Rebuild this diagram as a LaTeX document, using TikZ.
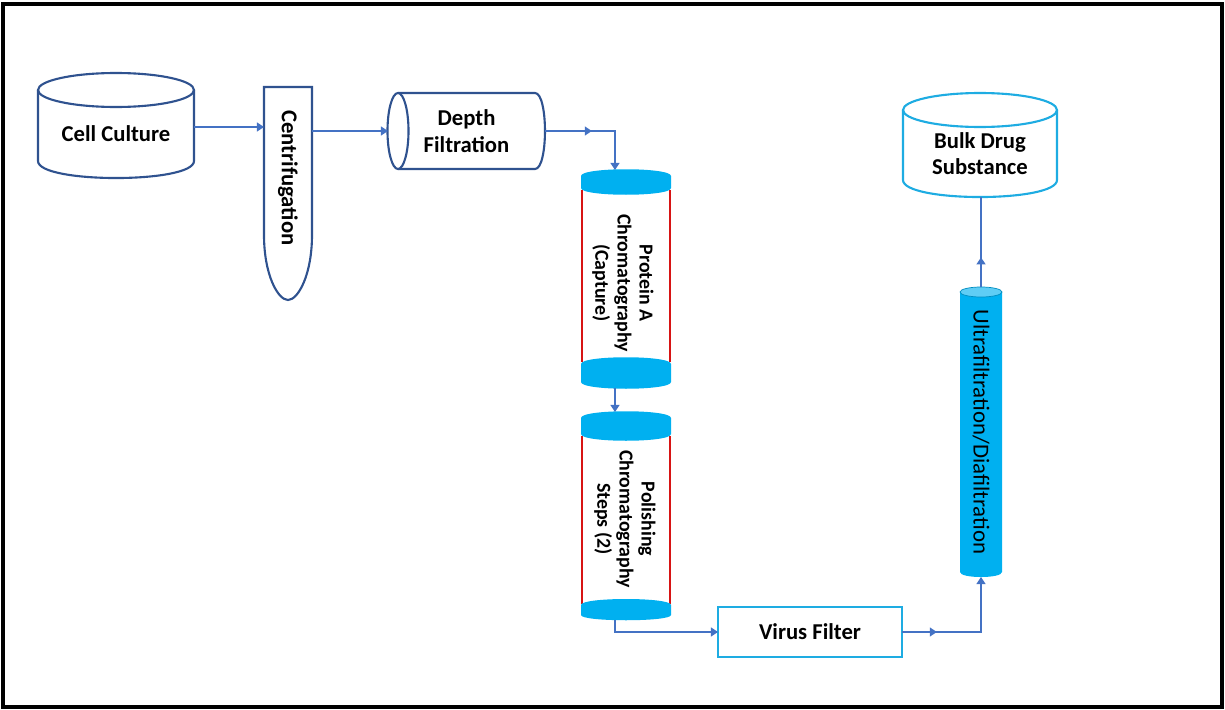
\documentclass[tikz,border=0pt]{standalone}
\usepackage{fontspec}
\setmainfont{Carlito}
\usetikzlibrary{arrows.meta, decorations.markings}

\definecolor{tankblue}{RGB}{47,82,143}
\definecolor{flowblue}{RGB}{68,114,196}
\definecolor{colcyan}{RGB}{0,176,240}
\definecolor{edgecyan}{RGB}{30,172,226}
\definecolor{ufcap}{RGB}{95,205,245}
\definecolor{colred}{RGB}{215,20,20}

\begin{document}
\begin{tikzpicture}[
  x=0.02cm, y=-0.02cm,
  box/.style={inner sep=0pt, outer sep=0pt, align=center},
  lbl/.style={font=\bfseries\fontsize{12.9}{15}\selectfont, align=center, inner sep=0pt},
  collbl/.style={font=\bfseries\fontsize{11.3}{12.6}\selectfont, align=center, inner sep=0pt, rotate=-90},
  tank/.style={line width=1.2pt, draw=tankblue, fill=white},
  tankcyan/.style={line width=1.2pt, draw=edgecyan, fill=white},
  colcap/.style={fill=colcyan},
  wall/.style={line width=1.3pt, draw=colred},
  pipe/.style={draw=flowblue, line width=1.1pt},
  flow/.style={pipe, -{Triangle[length=4pt, width=5pt]}},
  midarrow/.style={postaction={decorate}, decoration={markings,
    mark=at position #1 with {\arrow[flowblue]{Triangle[length=4pt, width=5pt]}}}}
]

\useasboundingbox (0,0) rectangle (1225,710);
\draw[line width=1.8pt] (3,4) rectangle (1222,707);

% cell culture tank
\draw[tank] (38,90) -- (38,161) .. controls (38,183.7) and (194,183.7) .. (194,161) -- (194,90);
\draw[tank] (116,90) ellipse [x radius=78, y radius=17];
\node[box, lbl, minimum width=3.12cm, minimum height=1.76cm] (cell) at (116,134) {Cell Culture};

% centrifuge tube
\draw[tank] (264,235) -- (264,87) -- (312,87) -- (312,235)
  .. controls (312,275) and (298,300) .. (288,300)
  .. controls (278,300) and (264,275) .. (264,235) -- cycle;
\node[box, minimum width=0.96cm, minimum height=4.26cm] (cent) at (288,193.5) {};
\node[lbl, rotate=-90] (centtext) at (288,178) {Centrifugation};

% depth filter, lying down
\draw[tank] (398,93) -- (535,93) .. controls (548.3,93) and (548.3,169) .. (535,169) -- (398,169);
\draw[tank] (398,131) ellipse [x radius=10.5, y radius=38];
\node[box, lbl, minimum width=3.14cm, minimum height=1.52cm] (depth) at (466.5,131) {Depth\\Filtration};

% protein A column
\draw[wall] (582,190) -- (582,362);
\draw[wall] (670,190) -- (670,362);
\fill[colcap] (581,176) .. controls (581,167) and (671,167) .. (671,176) -- (671,188)
  .. controls (671,197) and (581,197) .. (581,188) -- cycle;
\fill[colcap] (581,364) .. controls (581,355) and (671,355) .. (671,364) -- (671,382)
  .. controls (671,391) and (581,391) .. (581,382) -- cycle;
\node[box, minimum width=1.8cm, minimum height=4.36cm] (protA) at (626,279) {};
\node[collbl] (protAtext) at (623,283) {Protein A\\Chromatography\\(Capture)};

% polishing column
\draw[wall] (582,436) -- (582,604);
\draw[wall] (670,436) -- (670,604);
\fill[colcap] (581,418) .. controls (581,409) and (671,409) .. (671,418) -- (671,434)
  .. controls (671,443) and (581,443) .. (581,434) -- cycle;
\fill[colcap] (581,605) .. controls (581,597) and (671,597) .. (671,605) -- (671,615)
  .. controls (671,622) and (581,622) .. (581,615) -- cycle;
\node[box, minimum width=1.8cm, minimum height=4.16cm] (polish) at (626,516) {};
\node[collbl] (polishtext) at (625,519) {Polishing\\Chromatography\\Steps (2)};

% virus filter
\node[box, lbl, draw=edgecyan, line width=1.2pt, minimum width=3.68cm, minimum height=1.0cm] (virus) at (810,632) {Virus Filter};

% UF/DF column
\fill[colcyan] (960,292) -- (960,572) .. controls (960,578.7) and (1002,578.7) .. (1002,572) -- (1002,292) -- cycle;
\filldraw[fill=ufcap, draw=colcyan!80!black, line width=0.4pt] (981,292) ellipse [x radius=21, y radius=5];
\node[box, minimum width=0.84cm, minimum height=5.8cm] (uf) at (981,432) {};
\node[font=\fontsize{13}{15}\selectfont, rotate=-90, inner sep=0pt] (uftext) at (981,432) {Ultrafiltration/Diafiltration};

% bulk drug substance tank
\draw[tankcyan] (903,110) -- (903,180) .. controls (903,202.7) and (1057,202.7) .. (1057,180) -- (1057,110);
\draw[tankcyan] (980,110) ellipse [x radius=77, y radius=17];
\node[box, lbl, minimum width=3.08cm, minimum height=1.74cm] (bulk) at (980,153.5) {Bulk Drug\\Substance};

% process flow
\draw[flow] ([yshift=0.14cm]cell.east) -- ([yshift=0.14cm]cell.east -| cent.west);
\draw[flow] (cent.east |- depth.west) -- (depth.west);
\draw[flow, midarrow=0.43] (depth.east) -| ([xshift=-0.22cm]protA.north);
\draw[flow] ([xshift=-0.22cm]protA.south) -- ([xshift=-0.22cm]polish.north);
\draw[flow] ([xshift=-0.22cm]polish.south) |- (virus.west);
\draw[flow, midarrow=0.26] (virus.east) -| (uf.south);
\draw[pipe, midarrow=0.33] (uf.north) -- (uf.north |- bulk.south);

\end{tikzpicture}
\end{document}
